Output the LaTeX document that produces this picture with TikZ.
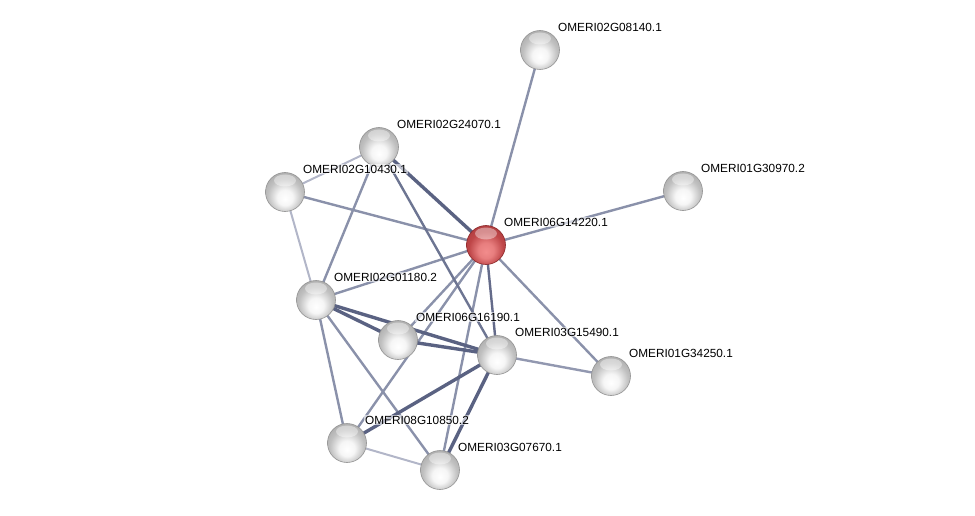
\documentclass[tikz,border=0pt]{standalone}
\usepackage{fontspec}
\setmainfont{Liberation Sans}
\usetikzlibrary{backgrounds}

% colours of the network
\definecolor{linknorm}{RGB}{138,145,170}
\definecolor{linkdark}{RGB}{90,98,130}
\definecolor{linklight}{RGB}{178,182,200}
\definecolor{greytop}{RGB}{192,192,192}
\definecolor{greyrim}{RGB}{120,120,120}
\definecolor{redtop}{RGB}{190,70,72}
\definecolor{redlow}{RGB}{242,140,140}
\definecolor{redrim}{RGB}{140,40,42}

% glassy balls, light from below
\pgfdeclareradialshading{greyball}{\pgfpoint{0bp}{-9bp}}{%
  color(0bp)=(white); color(10bp)=(white!85!greytop); color(22bp)=(greytop);
  color(31bp)=(greytop!70!greyrim); color(34bp)=(greyrim); color(50bp)=(greyrim)}
\pgfdeclareradialshading{redball}{\pgfpoint{0bp}{-9bp}}{%
  color(0bp)=(redlow); color(10bp)=(redlow!80!redtop); color(22bp)=(redtop);
  color(31bp)=(redtop!70!redrim); color(34bp)=(redrim); color(50bp)=(redrim)}

\tikzset{
  prot/.style={circle, minimum size=39pt, inner sep=0pt, shading=greyball,
    draw=greyrim!80, line width=0.6pt,
    path picture={\fill[white, opacity=0.4] ([yshift=-8pt]path picture bounding box.north) ellipse (11pt and 6pt);}},
  query/.style={prot, shading=redball, draw=redrim},
  lbl/.style={anchor=west, inner sep=1pt, fill=white, fill opacity=0.6, text opacity=1,
    font=\fontsize{11.8}{14}\selectfont},
  lnk/.style={draw=linknorm, line width=2.4pt},
  lnkthick/.style={draw=linkdark, line width=3.4pt},
  lnklight/.style={draw=linklight, line width=2pt}
}

\begin{document}
\begin{tikzpicture}[x=1pt, y=-1pt]
  % page frame
  \useasboundingbox (0,0) rectangle (975,516);

  % proteins
  \node[query] (c) at (486,245) {};
  \node[prot] (a) at (540,50) {};
  \node[prot] (b) at (683,191) {};
  \node[prot] (d) at (379,147) {};
  \node[prot] (e) at (285,192) {};
  \node[prot] (f) at (316,300) {};
  \node[prot] (g) at (398,340) {};
  \node[prot] (h) at (497,355) {};
  \node[prot] (i) at (611,376) {};
  \node[prot] (j) at (347,443) {};
  \node[prot] (k) at (440,470) {};

  % names, up and to the right of each ball
  \node[lbl] (ct) at ([shift={(17,-23)}]c.center) {OMERI06G14220.1};
  \node[lbl] (at) at ([shift={(17,-23)}]a.center) {OMERI02G08140.1};
  \node[lbl] (bt) at ([shift={(17,-23)}]b.center) {OMERI01G30970.2};
  \node[lbl] (dt) at ([shift={(17,-23)}]d.center) {OMERI02G24070.1};
  \node[lbl] (et) at ([shift={(17,-23)}]e.center) {OMERI02G10430.1};
  \node[lbl] (ft) at ([shift={(17,-23)}]f.center) {OMERI02G01180.2};
  \node[lbl] (gt) at ([shift={(17,-23)}]g.center) {OMERI06G16190.1};
  \node[lbl] (ht) at ([shift={(17,-23)}]h.center) {OMERI03G15490.1};
  \node[lbl] (it) at ([shift={(17,-23)}]i.center) {OMERI01G34250.1};
  \node[lbl] (jt) at ([shift={(17,-23)}]j.center) {OMERI08G10850.2};
  \node[lbl] (kt) at ([shift={(17,-23)}]k.center) {OMERI03G07670.1};

  % links behind the balls
  \begin{scope}[on background layer]
    \draw[lnk] (c.center) -- (a.center);
    \draw[lnk] (c.center) -- (b.center);
    \draw[lnkthick] (c.center) -- (d.center);
    \draw[lnk] (c.center) -- (e.center);
    \draw[lnk] (c.center) -- (f.center);
    \draw[lnk] (c.center) -- (g.center);
    \draw[lnk, draw=linkdark!80!linknorm] (c.center) -- (h.center);
    \draw[lnk] (c.center) -- (i.center);
    \draw[lnk] (c.center) -- (j.center);
    \draw[lnk] (c.center) -- (k.center);
    \draw[lnklight] (d.center) -- (e.center);
    \draw[lnk] (d.center) -- (f.center);
    \draw[lnk, draw=linkdark!60!linknorm] (d.center) -- (h.center);
    \draw[lnklight] (e.center) -- (f.center);
    \draw[lnkthick] (f.center) -- (g.center);
    \draw[lnkthick] (f.center) -- (h.center);
    \draw[lnk] (f.center) -- (j.center);
    \draw[lnk] (f.center) -- (k.center);
    \draw[lnkthick] (g.center) -- (h.center);
    \draw[lnk, draw=linknorm!80!linklight] (h.center) -- (i.center);
    \draw[lnkthick] (h.center) -- (j.center);
    \draw[lnkthick] (h.center) -- (k.center);
    \draw[lnklight] (j.center) -- (k.center);
  \end{scope}
\end{tikzpicture}
\end{document}
